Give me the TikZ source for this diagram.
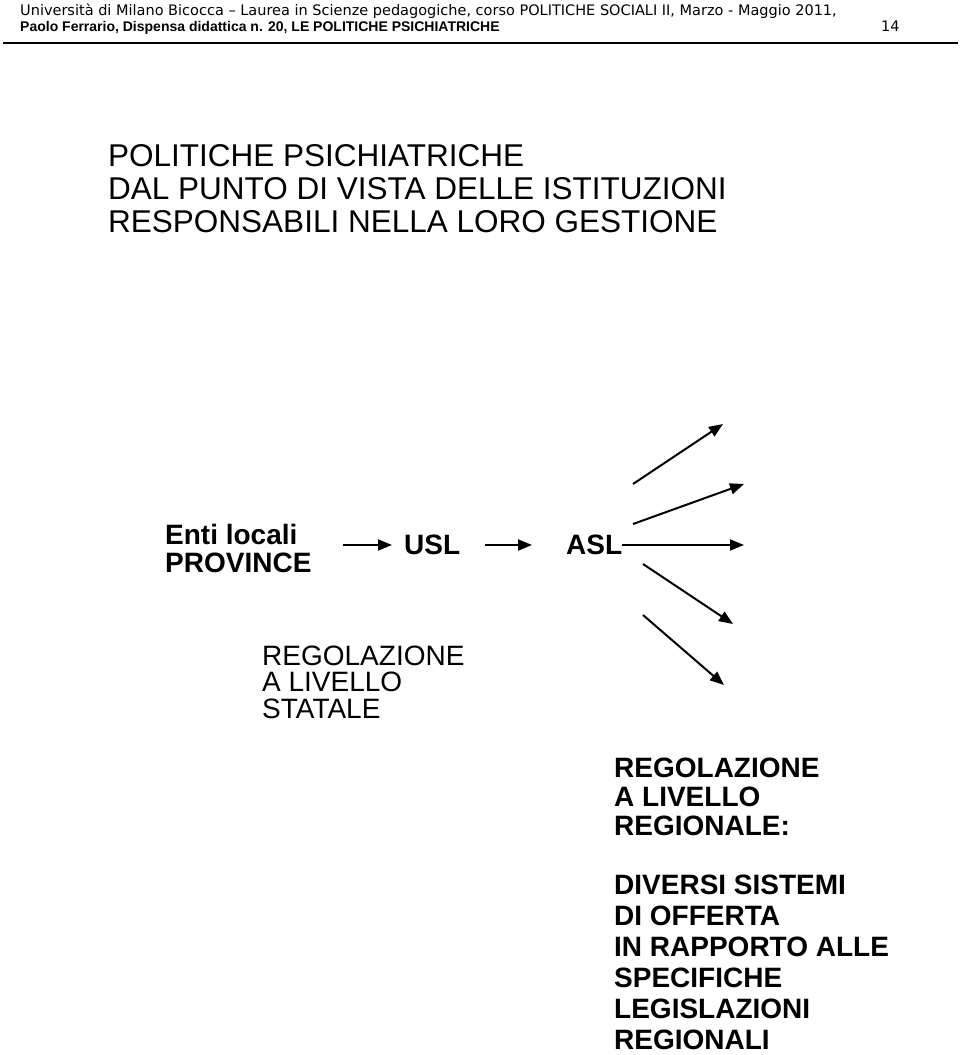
\documentclass[tikz,border=0pt]{standalone}
\usepackage{fontspec}
\setmainfont{Liberation Sans}
\newfontfamily\hdrfont{DejaVu Sans}
\usepackage{tikz}
\usetikzlibrary{arrows.meta,positioning,calc}

\begin{document}
\begin{tikzpicture}[
    x=1pt, y=-1pt,
    hdr/.style={anchor=base west, inner sep=0pt, font=\hdrfont\fontsize{14.5}{16}\selectfont},
    hdrbf/.style={anchor=base west, inner sep=0pt, font=\fontsize{14}{16}\selectfont\bfseries},
    title/.style={anchor=base west, inner sep=0pt, align=left, font=\fontsize{31.5}{33}\selectfont},
    label/.style={inner sep=0pt, align=left, font=\fontsize{28}{28}\selectfont\bfseries},
    plain/.style={anchor=base west, inner sep=0pt, align=left, font=\fontsize{28}{26.5}\selectfont},
    boldtext/.style={anchor=base west, inner sep=0pt, align=left, font=\fontsize{28}{29}\selectfont\bfseries},
    arrow/.style={-{Triangle[length=14pt,width=11pt]}, line width=2pt}
]
    \useasboundingbox (0,0) rectangle (960,1055);

    % Page header
    \node[hdr] (course) at (20,15) {Università di Milano Bicocca – Laurea in Scienze pedagogiche, corso POLITICHE SOCIALI II, Marzo - Maggio 2011,};
    \node[hdrbf] (source) at (20,31) {Paolo Ferrario, Dispensa didattica n. 20, LE POLITICHE PSICHIATRICHE};
    \node[hdr] (page) at (881,31) {14};
    \draw[line width=2pt] (3,43) -- (958,43);

    % Title (base = last line)
    \node[title] (title) at (108,232) {POLITICHE PSICHIATRICHE\\DAL PUNTO DI VISTA DELLE ISTITUZIONI\\RESPONSABILI NELLA LORO GESTIONE};

    % Institutions
    \node[label, anchor=west] (prov) at (165,548) {Enti locali\\PROVINCE};
    \node[label, anchor=west] (usl) at (404,545) {USL};
    \node[label, anchor=west] (asl) at (566,545) {ASL};

    \draw[arrow, shorten <=31pt, shorten >=12pt] (prov.east |- usl) -- (usl);
    \draw[arrow, shorten <=25pt, shorten >=34pt] (usl) -- (asl);

    % Fan out of ASL
    \coordinate (f1s) at (633,484);
    \coordinate (f1e) at (723,424);
    \coordinate (f2s) at (633,524);
    \coordinate (f2e) at (744,484);
    \coordinate (f3e) at (744,545);
    \coordinate (f4s) at (643,564);
    \coordinate (f4e) at (733,624);
    \coordinate (f5s) at (643,615);
    \coordinate (f5e) at (724,685);

    \draw[arrow] (f1s) -- (f1e);
    \draw[arrow] (f2s) -- (f2e);
    \draw[arrow] (asl) -- (f3e);
    \draw[arrow] (f4s) -- (f4e);
    \draw[arrow] (f5s) -- (f5e);

    % Levels of regulation (base = last line)
    \node[plain] (stato) at (262,718) {REGOLAZIONE\\A LIVELLO\\STATALE};
    \node[boldtext] (regione) at (614,835) {REGOLAZIONE\\A LIVELLO\\REGIONALE:};
    \node[boldtext, font=\fontsize{28}{31}\selectfont\bfseries] (offerta) at (614,1049) {DIVERSI SISTEMI\\DI OFFERTA\\IN RAPPORTO ALLE\\SPECIFICHE\\LEGISLAZIONI\\REGIONALI};

\end{tikzpicture}
\end{document}
